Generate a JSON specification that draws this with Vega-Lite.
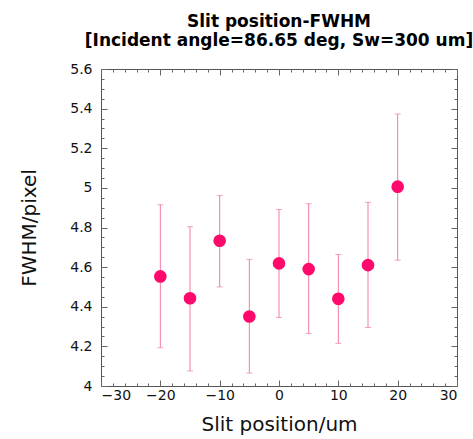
{
  "$schema": "https://vega.github.io/schema/vega-lite/v6.json",
  "width": 356,
  "height": 317,
  "autosize": {"type": "none"},
  "padding": {"left": 101, "top": 69, "right": 16, "bottom": 53},
  "config": {
    "font": "DejaVu Sans",
    "view": {"stroke": "#555555", "strokeWidth": 1},
    "axis": {"domain": false, "grid": false, "labelColor": "#111111", "titleColor": "#111111", "tickColor": "#666666", "tickWidth": 1, "tickSize": -6, "labelFontSize": 14, "titleFontSize": 20, "titleFontWeight": "normal"}
  },
  "title": {
    "text": ["Slit position-FWHM", "[Incident angle=86.65 deg, Sw=300 um]"],
    "fontSize": 17,
    "fontWeight": "bold",
    "lineHeight": 19,
    "anchor": "middle",
    "offset": 12,
    "color": "#000000"
  },
  "data": {
    "values": [
      {"x": -20, "y": 4.553, "lo": 4.193, "hi": 4.915},
      {"x": -15, "y": 4.443, "lo": 4.076, "hi": 4.804},
      {"x": -10, "y": 4.733, "lo": 4.5, "hi": 4.962},
      {"x": -5, "y": 4.351, "lo": 4.065, "hi": 4.639},
      {"x": 0, "y": 4.619, "lo": 4.346, "hi": 4.891},
      {"x": 5, "y": 4.59, "lo": 4.265, "hi": 4.92},
      {"x": 10, "y": 4.44, "lo": 4.215, "hi": 4.664},
      {"x": 15, "y": 4.61, "lo": 4.295, "hi": 4.927},
      {"x": 20, "y": 5.006, "lo": 4.635, "hi": 5.373}
    ]
  },
  "layer": [
    {
      "mark": {"type": "errorbar", "ticks": {"size": 6}, "color": "#F27BA8", "thickness": 1},
      "encoding": {
        "x": {
          "field": "x", "type": "quantitative",
          "scale": {"domain": [-30, 30], "nice": false, "zero": false},
          "axis": {
            "orient": "bottom",
            "title": "Slit position/um",
            "format": "~g",
            "values": [-30,-28,-26,-24,-22,-20,-18,-16,-14,-12,-10,-8,-6,-4,-2,0,2,4,6,8,10,12,14,16,18,20,22,24,26,28,30],
            "labelExpr": "datum.value % 10 === 0 ? datum.label : ''",
            "tickDash": {"condition": {"test": "datum.value % 10 === 0", "value": [6, 0]}, "value": [3, 20]},
            "labelPadding": 8,
            "titlePadding": 12
          }
        },
        "y": {
          "field": "lo", "type": "quantitative",
          "scale": {"domain": [4, 5.6], "nice": false, "zero": false},
          "axis": {
            "orient": "left",
            "title": "FWHM/pixel",
            "format": "~g",
            "values": [4,4.05,4.1,4.15,4.2,4.25,4.3,4.35,4.4,4.45,4.5,4.55,4.6,4.65,4.7,4.75,4.8,4.85,4.9,4.95,5,5.05,5.1,5.15,5.2,5.25,5.3,5.35,5.4,5.45,5.5,5.55,5.6],
            "labelExpr": "abs(datum.value*5 - round(datum.value*5)) < 0.01 ? datum.label : ''",
            "tickDash": {"condition": {"test": "abs(datum.value*5 - round(datum.value*5)) < 0.01", "value": [6, 0]}, "value": [3, 20]},
            "labelPadding": 15,
            "titlePadding": 30
          }
        },
        "y2": {"field": "hi"}
      }
    },
    {
      "mark": {"type": "circle", "size": 160, "color": "#FF0A6C", "opacity": 1},
      "encoding": {
        "x": {
          "field": "x", "type": "quantitative",
          "axis": {
            "orient": "top", "title": null, "labels": false,
            "values": [-30,-28,-26,-24,-22,-20,-18,-16,-14,-12,-10,-8,-6,-4,-2,0,2,4,6,8,10,12,14,16,18,20,22,24,26,28,30],
            "tickDash": {"condition": {"test": "datum.value % 10 === 0", "value": [6, 0]}, "value": [3, 20]}
          }
        },
        "y": {
          "field": "y", "type": "quantitative",
          "axis": {
            "orient": "right", "title": null, "labels": false,
            "values": [4,4.05,4.1,4.15,4.2,4.25,4.3,4.35,4.4,4.45,4.5,4.55,4.6,4.65,4.7,4.75,4.8,4.85,4.9,4.95,5,5.05,5.1,5.15,5.2,5.25,5.3,5.35,5.4,5.45,5.5,5.55,5.6],
            "tickDash": {"condition": {"test": "abs(datum.value*5 - round(datum.value*5)) < 0.01", "value": [6, 0]}, "value": [3, 20]}
          }
        }
      }
    }
  ],
  "resolve": {"axis": {"x": "independent", "y": "independent"}}
}
